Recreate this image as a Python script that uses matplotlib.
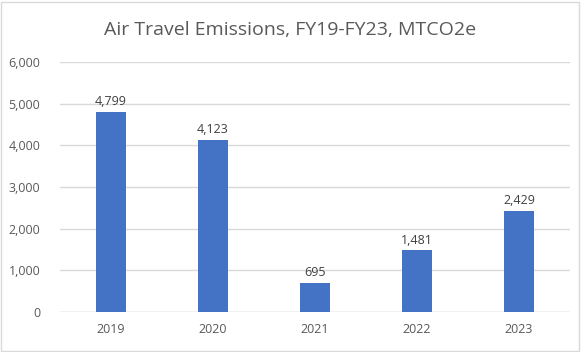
import matplotlib
matplotlib.use('Agg')
import matplotlib.pyplot as plt
from matplotlib.patches import Rectangle
import numpy as np

# Data
years = ["2019", "2020", "2021", "2022", "2023"]
emissions = [4799, 4123, 695, 1481, 2429]

BAR_COLOR = "#4472C4"
TEXT_COLOR = "#595959"
GRID_COLOR = "#D9D9D9"

plt.rcParams['font.family'] = ['Open Sans', 'DejaVu Sans']

fig = plt.figure(figsize=(5.81, 3.52), dpi=100, facecolor='white')
ax = fig.add_axes([0.103, 0.1136, 0.878, 0.7104])

x = np.arange(len(years))
bars = ax.bar(x, emissions, width=0.3, color=BAR_COLOR, zorder=3)

for xi, v in zip(x, emissions):
    ax.text(xi, v + 90, f"{v:,}", ha='center', va='bottom', fontsize=9, color='#404040')

ax.set_xlim(-0.5, len(years) - 0.5)
ax.set_ylim(0, 6000)
ax.set_yticks(range(0, 6001, 1000))
ax.set_yticklabels([f"{t:,}" for t in range(0, 6001, 1000)])
ax.set_xticks(x)
ax.set_xticklabels(years)
ax.tick_params(axis='both', length=0, labelsize=9, colors=TEXT_COLOR)
ax.tick_params(axis='y', pad=14)
ax.tick_params(axis='x', pad=8)
ax.grid(axis='y', color=GRID_COLOR, linewidth=1, zorder=0)
for s in ax.spines.values():
    s.set_visible(False)
ax.axhline(0, color=GRID_COLOR, linewidth=1, zorder=2)

fig.text(0.5, 0.915, "Air Travel Emissions, FY19-FY23, MTCO2e", ha='center', va='center',
         fontsize=14, color=TEXT_COLOR)

fig.patches.append(Rectangle((0.002, 0.003), 0.995, 0.992, transform=fig.transFigure,
                             fill=False, edgecolor='#D9D9D9', linewidth=1))

fig.savefig("out.png", dpi=100, facecolor='white')
